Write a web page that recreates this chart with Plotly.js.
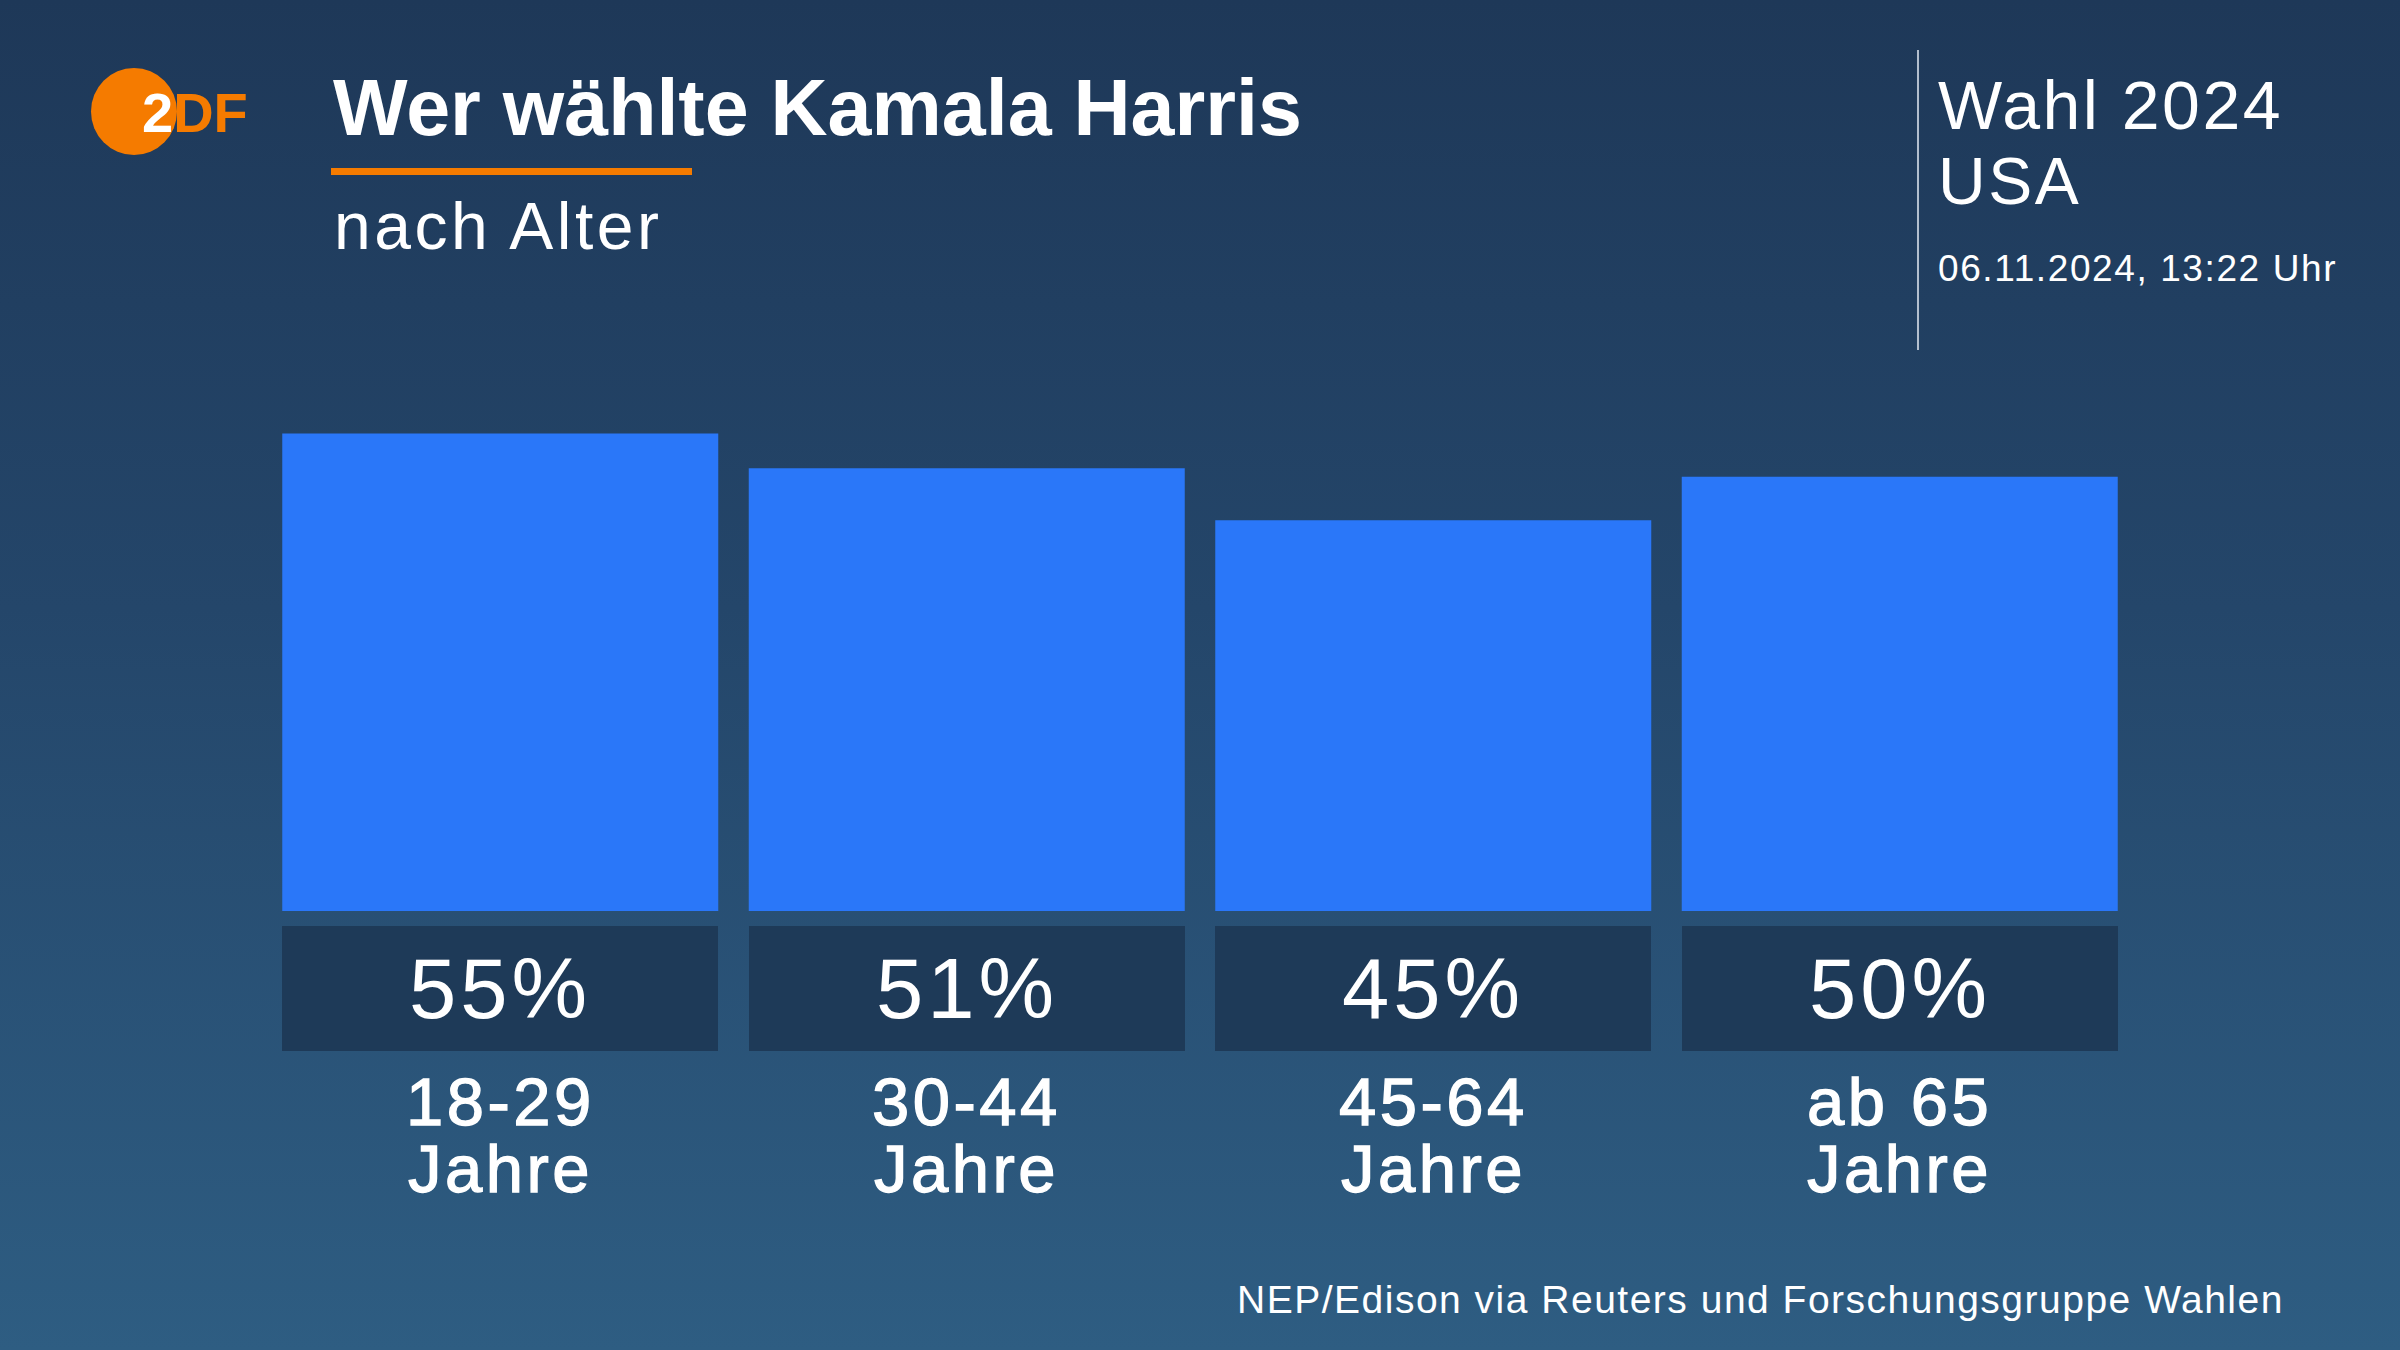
<!DOCTYPE html>
<html>
<head>
<meta charset="utf-8">
<script src="https://cdn.plot.ly/plotly-3.0.1.min.js"></script>
<style>
  html, body { margin: 0; padding: 0; width: 2400px; height: 1350px; overflow: hidden; }
  body { background: linear-gradient(180deg, #1e3858 0%, #24466a 45%, #2e5d82 100%); }
  #chart { width: 2400px; height: 1350px; }
</style>
</head>
<body>
<div id="chart"></div>
<script>
// ---- data ----
const ageGroups = ['18-29', '30-44', '45-64', 'ab 65'];
const ageUnit = 'Jahre';
const harrisShare = [55, 51, 45, 50];
const valueLabels = harrisShare.map(v => v + '%');

const titleText = 'Wer wählte Kamala Harris';
const subtitleText = 'nach Alter';
const headerLine1 = 'Wahl 2024';
const headerLine2 = 'USA';
const dateText = '06.11.2024, 13:22 Uhr';
const sourceText = 'NEP/Edison via Reuters und Forschungsgruppe Wahlen';
const logoText = "<span style='color:#ffffff'>2</span>DF";

// ---- layout helpers ----
const W = 2400, H = 1350;
const M = { l: 267, r: 267, t: 390, b: 439 };
const PW = W - M.l - M.r, PH = H - M.t - M.b;
const px = x => (x - M.l) / PW;
const py = y => (H - M.b - y) / PH;
const spaced = (t, ls, extra) => "<span style='letter-spacing:" + ls + "px" + (extra || '') + "'>" + t + "</span>";

const FONT = 'Liberation Sans, Arial, sans-serif';
const WHITE = '#ffffff';
const ORANGE = '#f57b00';
const BAR = '#2a77f9';
const BOX = '#1e3a58';

const trace = {
  type: 'bar',
  x: ageGroups,
  y: harrisShare,
  marker: { color: BAR, line: { width: 0 } },
  hoverinfo: 'skip',
  showlegend: false
};

const annotations = [];
// subtitle
annotations.push({ xref: 'paper', yref: 'paper', x: px(332), y: py(226), xanchor: 'left', yanchor: 'middle',
  text: spaced(subtitleText, 3.5), showarrow: false, font: { family: FONT, size: 66, color: WHITE } });
// logo text
annotations.push({ xref: 'paper', yref: 'paper', x: px(140), y: py(112), xanchor: 'left', yanchor: 'middle',
  text: logoText, showarrow: false, font: { family: FONT, size: 56, color: ORANGE, weight: 'bold' } });
// header right
annotations.push({ xref: 'paper', yref: 'paper', x: px(1936), y: py(105), xanchor: 'left', yanchor: 'middle',
  text: spaced(headerLine1, 2.5), showarrow: false, font: { family: FONT, size: 68, color: WHITE } });
annotations.push({ xref: 'paper', yref: 'paper', x: px(1936), y: py(181), xanchor: 'left', yanchor: 'middle',
  text: spaced(headerLine2, 2.5), showarrow: false, font: { family: FONT, size: 66, color: WHITE } });
annotations.push({ xref: 'paper', yref: 'paper', x: px(1936), y: py(268), xanchor: 'left', yanchor: 'middle',
  text: spaced(dateText, 1.6), showarrow: false, font: { family: FONT, size: 37, color: WHITE } });
// source
annotations.push({ xref: 'paper', yref: 'paper', x: px(2286), y: py(1299), xanchor: 'right', yanchor: 'middle',
  text: spaced(sourceText, 1.5), showarrow: false, font: { family: FONT, size: 39, color: WHITE } });

// value boxes and category labels (two tight lines: line pitch = 1.3 x base font size)
const boldish = ';font-size:67px;stroke:#ffffff;stroke-width:1.3px';
ageGroups.forEach((g, i) => {
  annotations.push({ xref: 'x', yref: 'paper', x: g, y: py(988.5), xanchor: 'center', yanchor: 'middle',
    text: spaced(valueLabels[i], 4), showarrow: false, bgcolor: BOX, width: 436, height: 125, borderpad: 0, borderwidth: 0,
    valign: 'middle', font: { family: FONT, size: 85, color: WHITE } });
  annotations.push({ xref: 'x', yref: 'paper', x: g, y: py(1135), xanchor: 'center', yanchor: 'middle',
    text: spaced(g, 3.5, boldish) + '<br>' + spaced(ageUnit, 3.5, boldish), showarrow: false, align: 'center',
    font: { family: FONT, size: 51.5, color: WHITE } });
});

const shapes = [
  // logo circle
  { type: 'circle', xref: 'paper', yref: 'paper', x0: px(91), x1: px(177), y0: py(68), y1: py(155),
    fillcolor: ORANGE, line: { width: 0 }, layer: 'below' },
  // title underline
  { type: 'rect', xref: 'paper', yref: 'paper', x0: px(331), x1: px(692), y0: py(175), y1: py(168),
    fillcolor: ORANGE, line: { width: 0 } },
  // divider
  { type: 'line', xref: 'paper', yref: 'paper', x0: px(1918), x1: px(1918), y0: py(50), y1: py(350),
    line: { color: 'rgba(205,214,226,0.85)', width: 2 } }
];

const layout = {
  width: W, height: H,
  paper_bgcolor: 'rgba(0,0,0,0)',
  plot_bgcolor: 'rgba(0,0,0,0)',
  margin: { l: M.l, r: M.r, t: M.t, b: M.b, pad: 0 },
  title: {
    text: '<b>' + titleText + '</b>',
    font: { family: FONT, size: 79, color: WHITE },
    xref: 'container', yref: 'container',
    x: 333 / W, xanchor: 'left',
    y: 1 - 80 / H, yanchor: 'top'
  },
  bargap: 0.0654,
  xaxis: { type: 'category', showticklabels: false, showgrid: false, zeroline: false, showline: false, ticks: '', fixedrange: true },
  yaxis: { range: [0, 60], visible: false, showgrid: false, zeroline: false, fixedrange: true },
  annotations: annotations,
  shapes: shapes,
  showlegend: false,
  hovermode: false
};

Plotly.newPlot('chart', [trace], layout, { displayModeBar: false, staticPlot: true });
</script>
</body>
</html>
